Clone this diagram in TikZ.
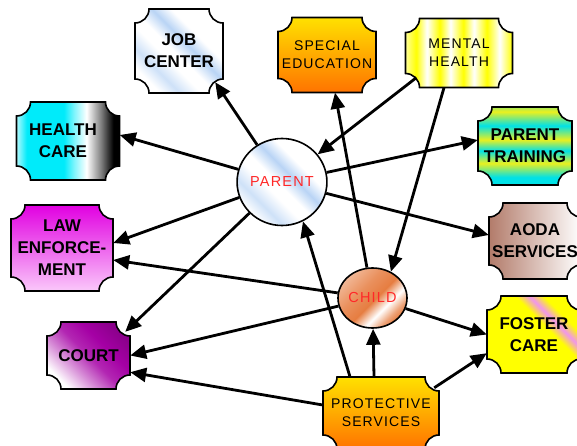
\documentclass[tikz,border=0pt]{standalone}
\usepackage{fontspec}
\setmainfont{Liberation Sans}
\newfontfamily\spacedfont[LetterSpace=8]{Liberation Sans}
\usetikzlibrary{arrows.meta,calc,shapes.geometric}
\definecolor{streakblue}{RGB}{185,212,245}
\definecolor{specyellow}{RGB}{255,225,0}
\definecolor{specorange}{RGB}{255,115,0}
\definecolor{mentalyellow}{RGB}{255,255,0}
\definecolor{healthcyan}{RGB}{0,235,250}
\definecolor{trainingcyan}{RGB}{0,225,230}
\definecolor{trainingyellow}{RGB}{235,240,30}
\definecolor{lawmagenta}{RGB}{225,0,225}
\definecolor{lawpink}{RGB}{250,200,250}
\definecolor{aodabrown}{RGB}{165,100,80}
\definecolor{courtpurple}{RGB}{165,0,165}
\definecolor{fosteryellow}{RGB}{255,255,0}
\definecolor{fosterpink}{RGB}{240,150,235}
\definecolor{childorange}{RGB}{230,125,65}
\definecolor{namered}{RGB}{255,40,40}
\pgfdeclarehorizontalshading{bluestreak}{100bp}{color(0bp)=(white); color(25bp)=(white);
  color(33bp)=(streakblue!70); color(42bp)=(white); color(48bp)=(white); color(56bp)=(streakblue);
  color(64bp)=(white); color(75bp)=(white); color(100bp)=(white)}
\pgfdeclarehorizontalshading{mentalstripes}{100bp}{color(0bp)=(mentalyellow!40!white);
  color(25bp)=(mentalyellow!40!white); color(30bp)=(mentalyellow); color(35bp)=(white);
  color(41bp)=(mentalyellow); color(46bp)=(white); color(52bp)=(mentalyellow); color(57bp)=(white);
  color(63bp)=(mentalyellow); color(69bp)=(white); color(75bp)=(mentalyellow); color(100bp)=(mentalyellow)}
\pgfdeclarehorizontalshading{healthfade}{100bp}{color(0bp)=(healthcyan!30!white);
  color(25bp)=(healthcyan!30!white); color(30bp)=(healthcyan); color(48bp)=(healthcyan);
  color(53bp)=(healthcyan!50!white); color(59bp)=(white); color(66bp)=(black!50);
  color(72bp)=(black); color(100bp)=(black)}
\pgfdeclareverticalshading{trainingstripes}{100bp}{color(0bp)=(trainingcyan);
  color(30bp)=(trainingcyan); color(39bp)=(trainingyellow); color(47bp)=(trainingcyan);
  color(54bp)=(trainingyellow); color(63bp)=(trainingcyan); color(72bp)=(trainingyellow);
  color(75bp)=(trainingyellow!70!trainingcyan); color(100bp)=(trainingyellow!70!trainingcyan)}
\pgfdeclarehorizontalshading{courtfade}{100bp}{color(0bp)=(white); color(25bp)=(white);
  color(38bp)=(courtpurple!45!white); color(50bp)=(courtpurple!85!white); color(62bp)=(courtpurple);
  color(75bp)=(courtpurple!85!black); color(100bp)=(courtpurple!85!black)}
\pgfdeclarehorizontalshading{fosterstreak}{100bp}{color(0bp)=(fosteryellow);
  color(58bp)=(fosteryellow); color(64bp)=(fosterpink); color(70bp)=(fosteryellow);
  color(100bp)=(fosteryellow)}
\pgfdeclarehorizontalshading{childshade}{100bp}{color(0bp)=(childorange!55!white);
  color(25bp)=(childorange!55!white); color(40bp)=(childorange!85!white); color(52bp)=(childorange);
  color(62bp)=(white); color(70bp)=(childorange!70!white); color(75bp)=(childorange);
  color(100bp)=(childorange)}
\tikzset{agencytext/.style={rectangle, inner sep=0pt, align=center}}
% box with scooped corners: name, centre, half width, half height, shading, text style, text
\newcommand{\agency}[7]{%
  \begin{scope}[shift={#2}]
    \shade[#5, draw=black, line width=1.6pt]
      (-#3+14,-#4) -- (#3-14,-#4) .. controls (#3-14,-#4+7.7) and (#3-7.7,-#4+14) .. (#3,-#4+14)
      -- (#3,#4-14) .. controls (#3-7.7,#4-14) and (#3-14,#4-7.7) .. (#3-14,#4)
      -- (-#3+14,#4) .. controls (-#3+14,#4-7.7) and (-#3+7.7,#4-14) .. (-#3,#4-14)
      -- (-#3,-#4+14) .. controls (-#3+7.7,-#4+14) and (-#3+14,-#4+7.7) .. (-#3+14,-#4) -- cycle;
  \end{scope}
  \node[agencytext, #6, minimum width=2*#3, minimum height=2*#4] (#1) at #2 {#7};
}
\begin{document}
\begin{tikzpicture}[x=1pt, y=-1pt, >={Triangle[length=16pt,width=14pt]},
  link/.style={->, line width=2.8pt},
  boldtext/.style={font=\fontsize{17}{22}\selectfont\bfseries},
  plaintext/.style={font=\spacedfont\fontsize{14}{18}\selectfont},
  person/.style={ellipse, draw=black, line width=1.6pt, shade, inner sep=0pt,
    text=namered, font=\spacedfont\fontsize{14.5}{16}\selectfont}]
  \useasboundingbox (0,0) rectangle (577,446);
  \clip (0,0) rectangle (577,446);
  % agencies round the family
  \agency{job}{(179,51)}{44}{42}{shading=bluestreak, shading angle=45}{boldtext}{JOB\\CENTER}
  \agency{spec}{(327,55)}{49}{37.5}{top color=specyellow, bottom color=specorange}{plaintext}{SPECIAL\\EDUCATION}
  \agency{mental}{(459,53)}{53.5}{34.5}{shading=mentalstripes}{plaintext}{MENTAL\\HEALTH}
  \agency{health}{(68,141)}{51.5}{39}{shading=healthfade}{boldtext, xshift=-5pt}{HEALTH\\CARE}
  \agency{training}{(525,146)}{47}{39}{shading=trainingstripes}{boldtext}{PARENT\\TRAINING}
  \agency{law}{(62,248)}{51}{43}{top color=lawmagenta, bottom color=lawpink}{boldtext}{LAW\\ENFORCE-\\MENT}
  \agency{aoda}{(535,241)}{46}{38}{left color=aodabrown!85, right color=white}{boldtext}{AODA\\SERVICES}
  \agency{court}{(88.5,355.5)}{41.5}{33.5}{shading=courtfade, shading angle=45}{boldtext}{COURT}
  \agency{foster}{(534,334.5)}{47}{38.5}{shading=fosterstreak, shading angle=45}{boldtext}{FOSTER\\CARE}
  \agency{protect}{(381,413)}{58}{36}{top color=specyellow, bottom color=specorange}{plaintext}{PROTECTIVE\\SERVICES}
  % parent and child
  \node[person, minimum width=85, minimum height=87, shading=bluestreak, shading angle=45] (parent) at (282,182) {PARENT};
  \node[person, minimum width=69, minimum height=60, shading=childshade, shading angle=-45] (child) at (372.5,298) {CHILD};
  % links from parent
  \draw[link] (parent) -- ($(job.south east)+(-8,-11)$);
  \draw[link] (parent) -- ($(health.east)+(5,-6)$);
  \draw[link] (parent) -- ($(law.east)+(0,-5)$);
  \draw[link] (parent) -- ($(court.north east)+(-5,10)$);
  \draw[link] (parent) -- ($(training.west)+(0,-6)$);
  \draw[link] (parent) -- ($(aoda.west)+(0,-6)$);
  % links from mental health
  \draw[link] ($(mental.south west)+(11,-10)$) -- (parent);
  \draw[link] ($(mental.south)+(-15,0)$) -- (child.55);
  % links from child
  \draw[link] (child) -- ($(spec.south)+(8,0)$);
  \draw[link] (child) -- ($(law.east)+(0,12)$);
  \draw[link] (child) -- (court.east);
  \draw[link] (child) -- (foster.west);
  % links from protective services
  \draw[link] ($(protect.north)+(-7,0)$) -- (child);
  \draw[link] ($(protect.north)+(-31,0)$) -- (parent.-62);
  \draw[link] ($(protect.north east)+(-5,11)$) -- ($(foster.south west)+(0,-20)$);
  \draw[link] ($(protect.west)+(0,-8)$) -- ($(court.south east)+(0,-17)$);
\end{tikzpicture}
\end{document}
